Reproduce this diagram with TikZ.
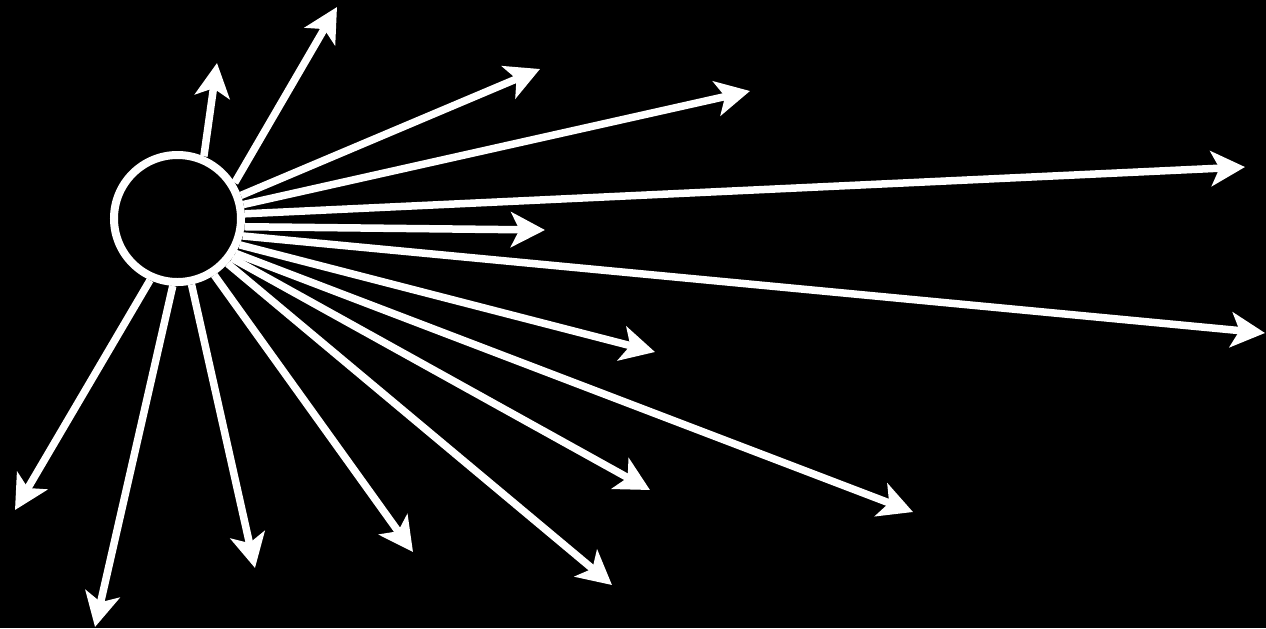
\documentclass[tikz,border=0pt]{standalone}
\usetikzlibrary{arrows.meta}
\begin{document}
\begin{tikzpicture}[x=0.2mm,y=-0.2mm,
  ray/.style={draw=white,line width=1.5mm,-{Stealth[length=6.8mm,width=7mm,inset=1.7mm]}},
  hub/.style={circle,draw=white,line width=1.6mm,inner sep=0pt,minimum size=25.4mm}]
\fill[black] (0,0) rectangle (1266,628);
\useasboundingbox (0,0) rectangle (1266,628);
\node[hub] (c) at (177.5,218.5) {};
\coordinate (t1) at (217,63);
\coordinate (t2) at (337,7);
\coordinate (t3) at (540,69);
\coordinate (t4) at (750,91);
\coordinate (t5) at (1245,167);
\coordinate (t6) at (545,230);
\coordinate (t7) at (1265,333);
\coordinate (t8) at (655,352);
\coordinate (t9) at (650,490);
\coordinate (t10) at (913,512);
\coordinate (t11) at (612,585);
\coordinate (t12) at (413,552);
\coordinate (t13) at (255,568);
\coordinate (t14) at (95,627);
\coordinate (t15) at (15,510);
\draw[ray] (c.67.8) -- (t1);
\draw[ray] (c.32.3) -- (t2);
\draw[ray] (c.20.5) -- (t3);
\draw[ray] (c.12.1) -- (t4);
\draw[ray] (c.4) -- (t5);
\draw[ray] (c.-7.1) -- (t6);
\draw[ray] (c.-15.5) -- (t7);
\draw[ray] (c.-23.5) -- (t8);
\draw[ray] (c.-36.9) -- (t9);
\draw[ray] (c.-31.4) -- (t10);
\draw[ray] (c.-42.8) -- (t11);
\draw[ray] (c.-57.2) -- (t12);
\draw[ray] (c.-78.7) -- (t13);
\draw[ray] (c.-94.9) -- (t14);
\draw[ray] (c.-114.8) -- (t15);
\end{tikzpicture}
\end{document}
